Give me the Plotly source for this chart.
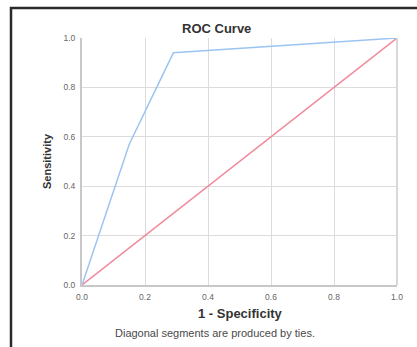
import plotly.graph_objects as go

# ROC curve data
fpr = [0.0, 0.15, 0.29, 1.0]
tpr = [0.0, 0.57, 0.94, 1.0]
ref_x = [0.0, 1.0]
ref_y = [0.0, 1.0]
ticks = [0.0, 0.2, 0.4, 0.6, 0.8, 1.0]
tick_labels = ["0.0", "0.2", "0.4", "0.6", "0.8", "1.0"]

L, R, T, B = 82, 397, 38, 285
W, H = 417, 347

def px(x):
    return (x - L) / (R - L)

def py(y):
    return (B - y) / (B - T)

fig = go.Figure()
fig.add_trace(go.Scatter(x=ref_x, y=ref_y, mode="lines",
                         line=dict(color="#f08a9c", width=1.5), showlegend=False, hoverinfo="skip"))
fig.add_trace(go.Scatter(x=fpr, y=tpr, mode="lines",
                         line=dict(color="#9cc4f2", width=1.5), showlegend=False, hoverinfo="skip"))

axis_common = dict(
    range=[0, 1], tickvals=ticks, ticktext=tick_labels,
    showgrid=True, gridcolor="#dcdcdc", gridwidth=1,
    zeroline=False, showline=True, linecolor="#c8c8c8", linewidth=2,
    tickfont=dict(family="Liberation Sans, Arial", size=8.5, color="#666666"),
    ticks="", fixedrange=True,
)

fig.update_layout(
    width=W, height=H,
    margin=dict(l=L, r=W - R, t=T, b=H - B),
    paper_bgcolor="white", plot_bgcolor="white",
    xaxis=dict(**axis_common, mirror=False, ticklabelstandoff=3),
    yaxis=dict(**axis_common, ticklabelstandoff=3),
    font=dict(family="Liberation Sans, Arial"),
)

# right edge line
fig.add_shape(type="line", xref="paper", yref="paper", x0=1, x1=1, y0=0, y1=1,
              line=dict(color="#d8d8d8", width=2))

# outer frame
fig.add_shape(type="path", xref="paper", yref="paper",
              path=f"M {px(430)} {py(8)} L {px(11)} {py(8)} L {px(11)} {py(360)}",
              line=dict(color="#2a2a2a", width=2.5))

def label(text, x, y, size, color, angle=0):
    fig.add_annotation(text=text, xref="paper", yref="paper",
                       x=px(x), y=py(y), showarrow=False, textangle=angle,
                       xanchor="center", yanchor="middle",
                       font=dict(size=size, color=color))

label("<b>ROC Curve</b>", 216, 29, 13, "#333333")
label("<b>1 - Specificity</b>", 240, 313, 13, "#333333")
label("<b>Sensitivity</b>", 47, 161, 11, "#333333", angle=-90)
label("Diagonal segments are produced by ties.", 215, 333, 11, "#4a4a4a")

fig.write_html("out.html")
